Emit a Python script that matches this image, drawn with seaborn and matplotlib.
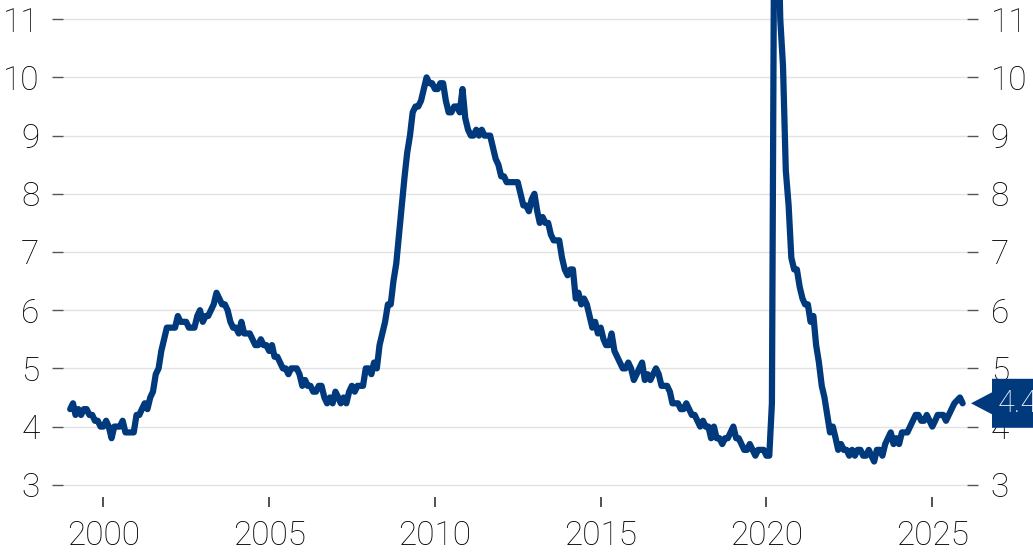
import pandas as pd
import matplotlib.pyplot as plt
import matplotlib.transforms as mtransforms
from matplotlib.patches import Polygon
import seaborn as sns

# Monthly unemployment rate (%), Jan 1999 - Dec 2025 (Oct 2025 missing)
rate_1999 = [4.3, 4.4, 4.2, 4.3, 4.2, 4.3, 4.3, 4.2, 4.2, 4.1, 4.1, 4.0]
rate_2000 = [4.0, 4.1, 4.0, 3.8, 4.0, 4.0, 4.0, 4.1, 3.9, 3.9, 3.9, 3.9]
rate_2001 = [4.2, 4.2, 4.3, 4.4, 4.3, 4.5, 4.6, 4.9, 5.0, 5.3, 5.5, 5.7]
rate_2002 = [5.7, 5.7, 5.7, 5.9, 5.8, 5.8, 5.8, 5.7, 5.7, 5.7, 5.9, 6.0]
rate_2003 = [5.8, 5.9, 5.9, 6.0, 6.1, 6.3, 6.2, 6.1, 6.1, 6.0, 5.8, 5.7]
rate_2004 = [5.7, 5.6, 5.8, 5.6, 5.6, 5.6, 5.5, 5.4, 5.4, 5.5, 5.4, 5.4]
rate_2005 = [5.3, 5.4, 5.2, 5.2, 5.1, 5.0, 5.0, 4.9, 5.0, 5.0, 5.0, 4.9]
rate_2006 = [4.7, 4.8, 4.7, 4.7, 4.6, 4.6, 4.7, 4.7, 4.5, 4.4, 4.5, 4.4]
rate_2007 = [4.6, 4.5, 4.4, 4.5, 4.4, 4.6, 4.7, 4.6, 4.7, 4.7, 4.7, 5.0]
rate_2008 = [5.0, 4.9, 5.1, 5.0, 5.4, 5.6, 5.8, 6.1, 6.1, 6.5, 6.8, 7.3]
rate_2009 = [7.8, 8.3, 8.7, 9.0, 9.4, 9.5, 9.5, 9.6, 9.8, 10.0, 9.9, 9.9]
rate_2010 = [9.8, 9.8, 9.9, 9.9, 9.6, 9.4, 9.4, 9.5, 9.5, 9.4, 9.8, 9.3]
rate_2011 = [9.1, 9.0, 9.0, 9.1, 9.0, 9.1, 9.0, 9.0, 9.0, 8.8, 8.6, 8.5]
rate_2012 = [8.3, 8.3, 8.2, 8.2, 8.2, 8.2, 8.2, 8.0, 7.8, 7.8, 7.7, 7.9]
rate_2013 = [8.0, 7.7, 7.5, 7.6, 7.5, 7.5, 7.3, 7.2, 7.2, 7.2, 6.9, 6.7]
rate_2014 = [6.6, 6.7, 6.7, 6.2, 6.3, 6.1, 6.2, 6.1, 5.9, 5.7, 5.8, 5.6]
rate_2015 = [5.7, 5.5, 5.4, 5.4, 5.6, 5.3, 5.2, 5.1, 5.0, 5.0, 5.1, 5.0]
rate_2016 = [4.8, 4.9, 5.0, 5.1, 4.8, 4.9, 4.8, 4.9, 5.0, 4.9, 4.7, 4.7]
rate_2017 = [4.7, 4.6, 4.4, 4.4, 4.4, 4.3, 4.3, 4.4, 4.3, 4.2, 4.2, 4.1]
rate_2018 = [4.0, 4.1, 4.0, 4.0, 3.8, 4.0, 3.8, 3.8, 3.7, 3.8, 3.8, 3.9]
rate_2019 = [4.0, 3.8, 3.8, 3.7, 3.6, 3.6, 3.7, 3.6, 3.5, 3.6, 3.6, 3.6]
rate_2020 = [3.5, 3.5, 4.4, 14.8, 13.2, 11.0, 10.2, 8.4, 7.8, 6.9, 6.7, 6.7]
rate_2021 = [6.4, 6.2, 6.1, 6.1, 5.8, 5.9, 5.4, 5.1, 4.7, 4.5, 4.2, 3.9]
rate_2022 = [4.0, 3.8, 3.6, 3.7, 3.6, 3.6, 3.5, 3.6, 3.5, 3.6, 3.6, 3.5]
rate_2023 = [3.5, 3.6, 3.5, 3.4, 3.6, 3.6, 3.5, 3.7, 3.8, 3.9, 3.7, 3.8]
rate_2024 = [3.7, 3.9, 3.9, 3.9, 4.0, 4.1, 4.2, 4.2, 4.1, 4.1, 4.2, 4.1]
rate_2025 = [4.0, 4.1, 4.2, 4.2, 4.2, 4.1, 4.2, 4.3, 4.4, None, 4.5, 4.4]

yearly = [rate_1999, rate_2000, rate_2001, rate_2002, rate_2003, rate_2004,
          rate_2005, rate_2006, rate_2007, rate_2008, rate_2009, rate_2010,
          rate_2011, rate_2012, rate_2013, rate_2014, rate_2015, rate_2016,
          rate_2017, rate_2018, rate_2019, rate_2020, rate_2021, rate_2022,
          rate_2023, rate_2024, rate_2025]
values = [v for year in yearly for v in year]

x_ticks = [2000, 2005, 2010, 2015, 2020, 2025]
y_ticks = [3, 4, 5, 6, 7, 8, 9, 10, 11]

df = pd.DataFrame({
    "date": pd.date_range("1999-01-01", periods=len(values), freq="MS"),
    "rate": values,
}).dropna()

line_color = "#003a7d"

sns.set_style("white")
plt.rcParams["font.family"] = ["Roboto", "DejaVu Sans"]
plt.rcParams["font.weight"] = "light"

fig = plt.figure(figsize=(10.33, 5.52), dpi=100)
ax = fig.add_axes([63 / 1033, 55 / 552, 904 / 1033, 497 / 552])

sns.lineplot(data=df, x="date", y="rate", ax=ax, color=line_color,
             linewidth=4.5, solid_joinstyle="round", solid_capstyle="round",
             zorder=3)

ax.set_xlim(pd.Timestamp("1998-10-14"), pd.Timestamp("2026-01-18"))
ax.set_ylim(2.79, 11.33)

ax.set_xticks([pd.Timestamp(f"{y}-01-01") for y in x_ticks])
ax.set_xticklabels([str(y) for y in x_ticks])
ax.set_yticks(y_ticks)
ax.set_yticklabels([str(v) for v in y_ticks])

ax.grid(axis="y", color="#e3e3e3", linewidth=1.0, zorder=0)
for side in ["top", "bottom", "left", "right"]:
    ax.spines[side].set_visible(False)

ax.tick_params(axis="x", direction="out", length=7.5, width=1.2, color="#333333",
               pad=9, labelsize=24, labelcolor="#000000", bottom=True)
ax.tick_params(axis="y", direction="out", length=8, width=1.0, color="#555555",
               pad=9, labelsize=24, labelcolor="#000000", left=True, right=True,
               labelleft=True, labelright=True)

ax.set_xlabel("")
ax.set_ylabel("")

# Last value marker on the right edge
last_val = df["rate"].iloc[-1]
fig.canvas.draw()
y_px = ax.transData.transform((0, last_val))[1]
shape = Polygon([(971, y_px), (992, y_px + 11), (992, y_px + 24.5),
                 (1040, y_px + 24.5), (1040, y_px - 24.5), (992, y_px - 24.5),
                 (992, y_px - 11)], closed=True, facecolor=line_color,
                edgecolor="none", transform=mtransforms.IdentityTransform())
fig.add_artist(shape)
fig.text(998 / 1033, y_px / 552, f"{last_val:.1f}", color="white", fontsize=22,
         fontweight="light", ha="left", va="center")

plt.savefig("out.png", dpi=100)
